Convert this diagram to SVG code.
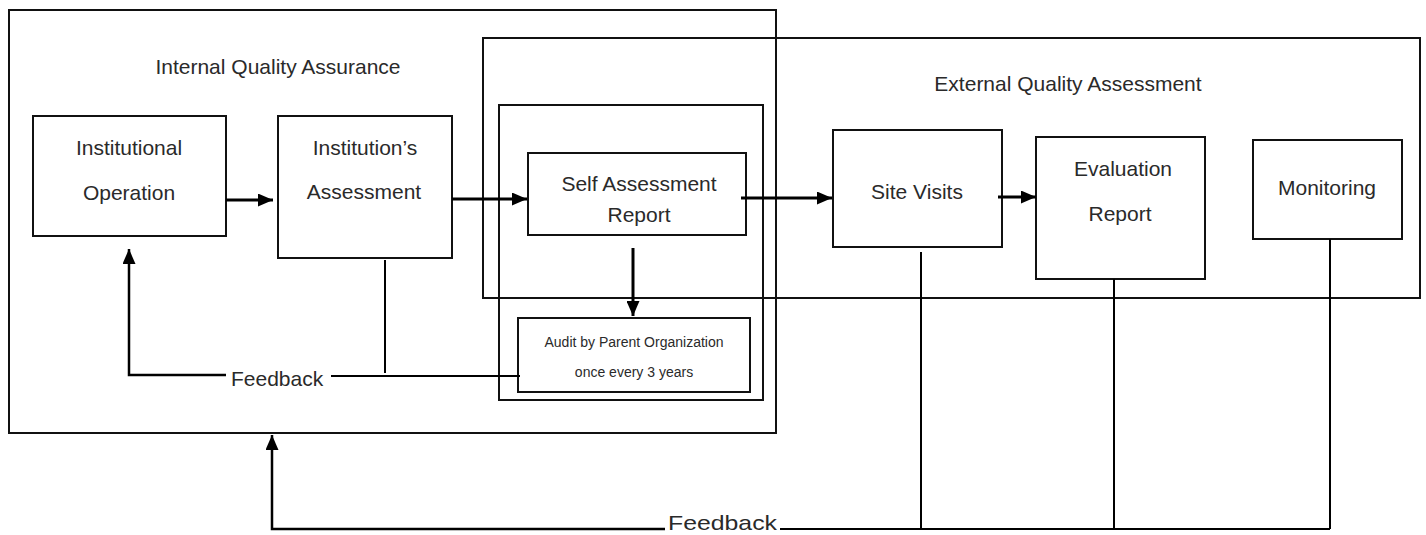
<svg xmlns="http://www.w3.org/2000/svg" width="1426" height="535" viewBox="0 0 1426 535">
<style>
.box{fill:none;stroke:#111;stroke-width:2}
.frame{fill:none;stroke:#111;stroke-width:2}
.conn{fill:none;stroke:#000;stroke-width:3}
.thin{fill:none;stroke:#000;stroke-width:2}
.fb{fill:none;stroke:#000;stroke-width:2.5}
text{font-family:"Liberation Sans",Arial,sans-serif;fill:#2a2a2a;font-size:21px;text-anchor:middle}
.small{font-size:14px}
</style>
<defs>
<marker id="arr" markerWidth="15" markerHeight="13" refX="15" refY="6.5" orient="auto" markerUnits="userSpaceOnUse">
<path d="M0,0 L15,6.5 L0,13 Z" fill="#000"/>
</marker>
</defs>
<g id="internal-qa">
<rect class="frame" x="9" y="10" width="767" height="423"/>
<text x="278" y="74">Internal Quality Assurance</text>
</g>
<g id="external-qa">
<rect class="frame" x="483" y="38" width="937" height="260"/>
<text x="1068" y="91">External Quality Assessment</text>
</g>
<g id="sar-group">
<rect class="frame" x="499" y="105" width="264" height="295"/>
</g>
<g id="institutional-operation">
<rect class="box" x="33" y="116" width="193" height="120"/>
<text x="129" y="155">Institutional</text>
<text x="129" y="200">Operation</text>
</g>
<g id="institutions-assessment">
<rect class="box" x="278" y="116" width="174" height="142"/>
<text x="365" y="155">Institution’s</text>
<text x="364" y="199">Assessment</text>
</g>
<g id="self-assessment-report">
<rect class="box" x="528" y="153" width="218" height="82"/>
<text x="639" y="191">Self Assessment</text>
<text x="639" y="222">Report</text>
</g>
<g id="audit">
<rect class="box" x="518" y="318" width="232" height="74"/>
<text class="small" x="634" y="347">Audit by Parent Organization</text>
<text class="small" x="634" y="377">once every 3 years</text>
</g>
<g id="site-visits">
<rect class="box" x="833" y="130" width="169" height="117"/>
<text x="917" y="199">Site Visits</text>
</g>
<g id="evaluation-report">
<rect class="box" x="1036" y="137" width="169" height="142"/>
<text x="1123" y="176">Evaluation</text>
<text x="1120" y="221">Report</text>
</g>
<g id="monitoring">
<rect class="box" x="1253" y="140" width="149" height="99"/>
<text x="1327" y="195">Monitoring</text>
</g>
<g id="connectors">
<line class="conn" x1="226" y1="200" x2="273" y2="200" marker-end="url(#arr)"/>
<line class="conn" x1="452" y1="199" x2="527" y2="199" marker-end="url(#arr)"/>
<line class="conn" x1="741" y1="198" x2="832" y2="198" marker-end="url(#arr)"/>
<line class="conn" x1="998" y1="197" x2="1036" y2="197" marker-end="url(#arr)"/>
<line class="conn" x1="633" y1="248" x2="633" y2="316" marker-end="url(#arr)"/>
<line class="thin" x1="385" y1="260" x2="385" y2="373"/>
<line class="thin" x1="520" y1="376" x2="331" y2="376"/>
<polyline class="fb" points="226,375 129,375 129,249" marker-end="url(#arr)"/>
<text x="231" y="386" style="text-anchor:start">Feedback</text>
<line class="thin" x1="921" y1="252" x2="921" y2="529"/>
<line class="thin" x1="1114" y1="279" x2="1114" y2="529"/>
<line class="thin" x1="1330" y1="239" x2="1330" y2="529"/>
<line class="thin" x1="1330" y1="529" x2="780" y2="529"/>
<polyline class="fb" points="665,529 272,529 272,435" marker-end="url(#arr)"/>
<text x="668" y="530" style="text-anchor:start;font-size:21px" textLength="109" lengthAdjust="spacingAndGlyphs">Feedback</text>
</g>
</svg>
